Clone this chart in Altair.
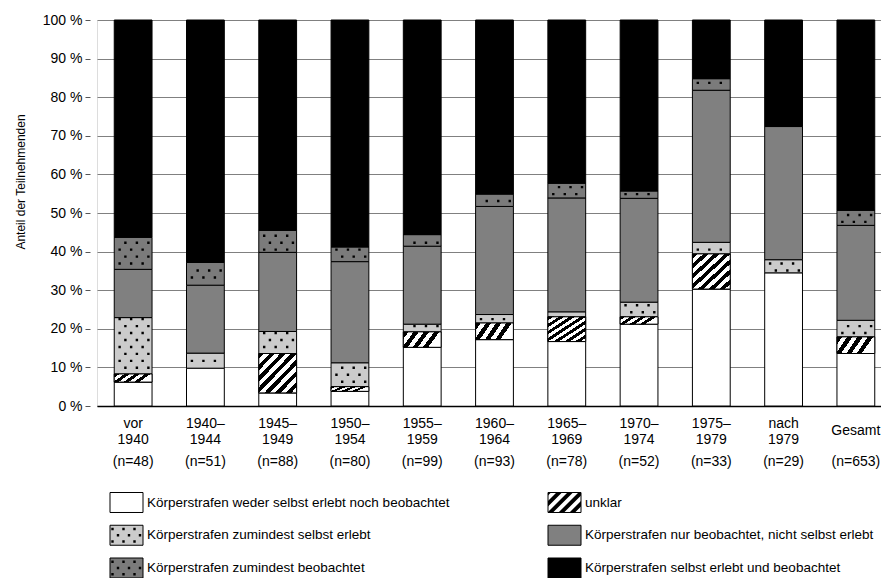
import altair as alt
import pandas as pd

# ---------------- data ----------------
cats = ["vor|1940", "1940–|1944", "1945–|1949", "1950–|1954", "1955–|1959",
        "1960–|1964", "1965–|1969", "1970–|1974", "1975–|1979", "nach|1979", "Gesamt"]
ns = ["(n=48)", "(n=51)", "(n=88)", "(n=80)", "(n=99)", "(n=93)", "(n=78)",
      "(n=52)", "(n=33)", "(n=29)", "(n=653)"]

series = [
    "Körperstrafen weder selbst erlebt noch beobachtet",
    "unklar",
    "Körperstrafen zumindest selbst erlebt",
    "Körperstrafen nur beobachtet, nicht selbst erlebt",
    "Körperstrafen zumindest beobachtet",
    "Körperstrafen selbst erlebt und beobachtet",
]
weder    = [6.2, 9.8, 3.4, 3.8, 15.2, 17.2, 16.7, 21.2, 30.3, 34.5, 13.6]
unklar   = [2.1, 0.0, 10.2, 1.2, 4.0, 4.3, 6.4, 1.9, 9.1, 0.0, 4.3]
selbst   = [14.6, 3.9, 5.7, 6.2, 2.0, 2.2, 1.3, 3.8, 3.0, 3.4, 4.3]
nur_beob = [12.5, 17.6, 20.5, 26.2, 20.2, 28.0, 29.5, 26.9, 39.4, 34.5, 24.6]
zum_beob = [8.3, 5.9, 5.7, 3.8, 3.0, 3.2, 3.8, 1.9, 3.0, 0.0, 3.9]
beides   = [56.3, 62.8, 54.5, 58.8, 55.6, 45.1, 42.3, 44.3, 15.2, 27.6, 49.3]
values = [weder, unklar, selbst, nur_beob, zum_beob, beides]

fills = ["#ffffff", "#ffffff", "#cbcbcb", "#808080", "#7b7b7b", "#000000"]
legend_col = [0, 1, 0, 1, 0, 1]
legend_row = [0, 0, 1, 1, 2, 2]

FONT = "Liberation Sans, Arial, sans-serif"
dotted = {series[2], series[4]}

# ---------------- tables ----------------
rows = []
for ci, c in enumerate(cats):
    base = 0.0
    for si, s in enumerate(series):
        v = values[si][ci]
        if v > 0:
            rows.append(dict(cat=c, series=s, pct=v, y0=base, y1=base + v))
        base += v
df = pd.DataFrame(rows)

# dot texture rows (clipped global grid) inside the dotted segments
STEP = 1.8
dot_rows = []
for r in rows:
    if r["series"] in dotted:
        for k in range(0, 60):
            y = 0.9 + k * STEP
            if r["y0"] + 0.35 < y < r["y1"] - 0.35:
                dot_rows.append(dict(cat=r["cat"], y=y, parity="A" if k % 2 == 0 else "B"))
dots_df = pd.DataFrame(dot_rows)

n_df = pd.DataFrame(dict(cat=cats, n=ns))
leg_df = pd.DataFrame(dict(series=series, lcol=legend_col, lrow=legend_row))


# ---------------- glyph paths ----------------
def sq(cx, cy, h, u):
    return (f"M{(cx-h)/u:.3f},{(cy-h)/u:.3f}L{(cx+h)/u:.3f},{(cy-h)/u:.3f}"
            f"L{(cx+h)/u:.3f},{(cy+h)/u:.3f}L{(cx-h)/u:.3f},{(cy+h)/u:.3f}Z")


U_BAR = 19.0  # size 1444 -> 19 px per unit
ROW_A = "".join(sq(x, 0, 1.2, U_BAR) for x in (-13.5, -2.0, 9.5))
ROW_B = "".join(sq(x, 0, 1.2, U_BAR) for x in (-7.75, 3.75, 15.25))

U_LEG = 16.5  # size 1089
HW, HH = 16.5, 10.0
RECT = f"M-1,{-HH/U_LEG:.3f}L1,{-HH/U_LEG:.3f}L1,{HH/U_LEG:.3f}L-1,{HH/U_LEG:.3f}Z"
LEG_DOTS = "".join(
    [sq(x, -6.3, 1.2, U_LEG) for x in (-14, -3, 8)]
    + [sq(x, 0, 1.2, U_LEG) for x in (-8.5, 2.5, 13.5)]
    + [sq(x, 6.3, 1.2, U_LEG) for x in (-14, -3, 8)]
)


def clip(poly, xmin, xmax, ymin, ymax):
    def edge(pts, inside, inter):
        out = []
        for i in range(len(pts)):
            cur, prev = pts[i], pts[i - 1]
            if inside(cur):
                if not inside(prev):
                    out.append(inter(prev, cur))
                out.append(cur)
            elif inside(prev):
                out.append(inter(prev, cur))
        return out

    def ix(p, q, xv):
        t = (xv - p[0]) / (q[0] - p[0])
        return (xv, p[1] + t * (q[1] - p[1]))

    def iy(p, q, yv):
        t = (yv - p[1]) / (q[1] - p[1])
        return (p[0] + t * (q[0] - p[0]), yv)

    pts = poly
    for f in (lambda P: edge(P, lambda p: p[0] >= xmin, lambda p, q: ix(p, q, xmin)),
              lambda P: edge(P, lambda p: p[0] <= xmax, lambda p, q: ix(p, q, xmax)),
              lambda P: edge(P, lambda p: p[1] >= ymin, lambda p, q: iy(p, q, ymin)),
              lambda P: edge(P, lambda p: p[1] <= ymax, lambda p, q: iy(p, q, ymax))):
        if not pts:
            break
        pts = f(pts)
    return pts


stripe_parts = []
c = -40.0
while c < 40:
    poly = [(c + 30, -30), (c + 35.5, -30), (c - 24.5, 30), (c - 30, 30)]
    p = clip(poly, -HW, HW, -HH, HH)
    if len(p) >= 3:
        stripe_parts.append("M" + "L".join(f"{x/U_LEG:.3f},{y/U_LEG:.3f}" for x, y in p) + "Z")
    c += 11.0
LEG_STRIPES = "".join(stripe_parts)


def stripes_gradient(n, vx, vy):
    stops = []
    for i in range(n):
        stops += [
            {"offset": i / n, "color": "#000000"},
            {"offset": (i + 0.5) / n, "color": "#000000"},
            {"offset": (i + 0.5) / n, "color": "#ffffff"},
            {"offset": (i + 1) / n, "color": "#ffffff"},
        ]
    return {"gradient": "linear", "x1": 0, "y1": 0, "x2": vx, "y2": vy, "stops": stops}


# ---------------- scales / axes ----------------
xscale = alt.Scale(domain=cats, range=[0, 795], paddingInner=0.477, paddingOuter=0.2385)
xaxis = alt.Axis(
    title=None, labelExpr="split(datum.value, '|')", labelAngle=0,
    labelBaseline={"condition": {"test": "datum.value == 'Gesamt'", "value": "top"}, "value": "middle"},
    labelLineHeight=16, labelPadding=17.5,
    ticks=False, tickSize=0, grid=False, domainColor="#000000", domainWidth=1.5,
    labelFont=FONT, labelFontSize=14, labelColor="#000000",
)
yscale = alt.Scale(domain=[0, 100], nice=False, zero=True)
yaxis = alt.Axis(
    values=list(range(0, 101, 10)), labelExpr="datum.value + ' %'",
    grid=True, gridColor="#808080", gridWidth=1, domain=False,
    ticks=True, tickSize=5, tickColor="#555555", offset=7, labelPadding=3,
    labelFont=FONT, labelFontSize=14, labelColor="#000000",
    title="Anteil der Teilnehmenden", titleFont=FONT, titleFontSize=12,
    titleFontWeight="normal", titleColor="#000000", titleAngle=270,
    titleX=-70, titleY=161.5, titleAlign="center", titleBaseline="middle",
)
fill_scale = alt.Scale(domain=series, range=fills)


def X():
    return alt.X("cat:N", sort=cats, scale=xscale, axis=xaxis)


def Y(field):
    return alt.Y(field, type="quantitative", scale=yscale, axis=yaxis)


bars = alt.Chart(df).mark_bar(stroke="#000000", strokeWidth=1).encode(
    x=X(), y=Y("y1"), y2="y0:Q",
    fill=alt.Fill("series:N", scale=fill_scale, legend=None),
)

stripes_tall = alt.Chart(df).transform_filter(
    (alt.datum.series == "unklar") & (alt.datum.pct >= 6)
).mark_bar(stroke="#000000", strokeWidth=1, fill=stripes_gradient(7, 1, 1)).encode(
    x=X(), y=Y("y1"), y2="y0:Q")

stripes_thin = alt.Chart(df).transform_filter(
    (alt.datum.series == "unklar") & (alt.datum.pct < 6)
).mark_bar(stroke="#000000", strokeWidth=1, fill=stripes_gradient(4, 1, 0.3)).encode(
    x=X(), y=Y("y1"), y2="y0:Q")

dots = alt.Chart(dots_df).mark_point(
    filled=True, size=1444, strokeWidth=0, opacity=1, color="#000000"
).encode(
    x=X(), y=Y("y"),
    shape=alt.Shape("parity:N", scale=alt.Scale(domain=["A", "B"], range=[ROW_A, ROW_B]), legend=None),
)

ntext = alt.Chart(n_df).mark_text(
    font=FONT, fontSize=14, color="#000000", baseline="middle", align="center"
).encode(x=X(), y=alt.value(442), text="n:N")

main = alt.layer(bars, stripes_tall, stripes_thin, dots, ntext)

# ---------------- legend (as its own layer) ----------------
lx = alt.X("lcol:Q", scale=alt.Scale(domain=[0, 1], range=[29.5, 467.5], nice=False, zero=False), axis=None)
ly = alt.Y("lrow:Q", scale=alt.Scale(domain=[0, 2], range=[482.5, 548], nice=False, zero=False), axis=None)

leg_sym = alt.Chart(leg_df).mark_point(
    shape=RECT, size=1089, filled=True, stroke="#000000", strokeWidth=1, opacity=1
).encode(x=lx, y=ly, fill=alt.Fill("series:N", scale=fill_scale, legend=None))

leg_dots = alt.Chart(leg_df).transform_filter(
    alt.FieldOneOfPredicate(field="series", oneOf=sorted(dotted))
).mark_point(shape=LEG_DOTS, size=1089, filled=True, strokeWidth=0, opacity=1, color="#000000"
).encode(x=lx, y=ly)

leg_stripes = alt.Chart(leg_df).transform_filter(
    alt.datum.series == "unklar"
).mark_point(shape=LEG_STRIPES, size=1089, filled=True, strokeWidth=0, opacity=1, color="#000000"
).encode(x=lx, y=ly)

leg_text = alt.Chart(leg_df).mark_text(
    align="left", baseline="middle", dx=20.5, font=FONT, fontSize=13.5, color="#000000"
).encode(x=lx, y=ly, text="series:N")

legend = alt.layer(leg_sym, leg_dots, leg_stripes, leg_text)

chart = alt.layer(main, legend).resolve_scale(
    x="independent", y="independent"
).properties(
    width=784, height=386,
    padding={"left": 89, "top": 12, "right": 0, "bottom": 172},
    autosize=alt.AutoSizeParams(type="none"),
).configure_view(stroke=None).configure(background="#ffffff")

chart.save("out.html", embed_options={"renderer": "svg", "actions": False})
